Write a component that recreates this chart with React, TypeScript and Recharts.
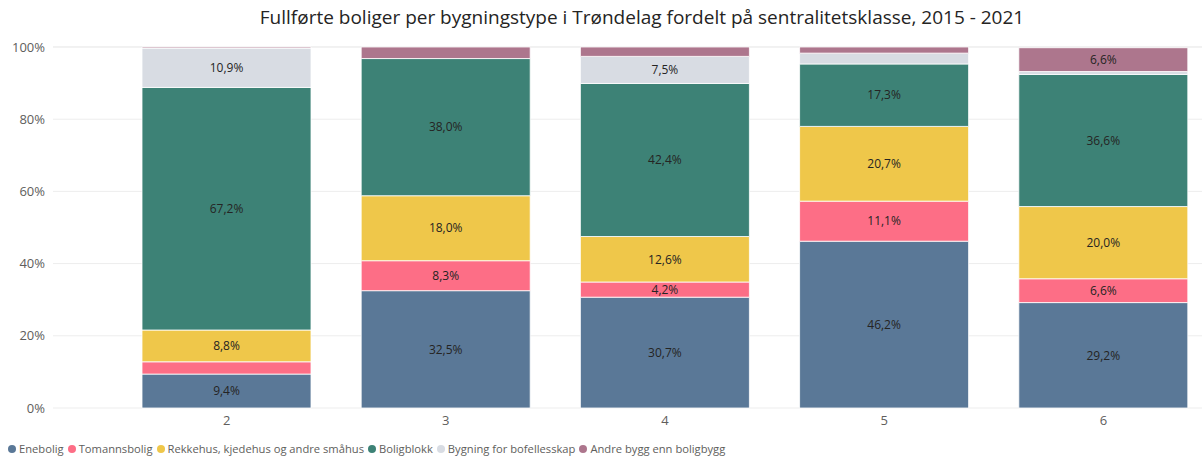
import React from 'react';
import { BarChart, Bar, XAxis, YAxis, CartesianGrid, LabelList } from 'recharts';

const categories = ['2', '3', '4', '5', '6'];
const enebolig = [9.4, 32.5, 30.7, 46.2, 29.2];
const tomannsbolig = [3.4, 8.3, 4.2, 11.1, 6.6];
const rekkehus = [8.8, 18.0, 12.6, 20.7, 20.0];
const boligblokk = [67.2, 38.0, 42.4, 17.3, 36.6];
const bofellesskap = [10.9, 0.0, 7.5, 3.0, 0.8];
const andreBygg = [0.3, 3.2, 2.6, 1.7, 6.6];
const yTicks = [0, 20, 40, 60, 80, 100];

const series = [
  { key: 'enebolig', name: 'Enebolig', color: '#5A7897', values: enebolig },
  { key: 'tomannsbolig', name: 'Tomannsbolig', color: '#FD6E86', values: tomannsbolig },
  { key: 'rekkehus', name: 'Rekkehus, kjedehus og andre småhus', color: '#EFC74A', values: rekkehus },
  { key: 'boligblokk', name: 'Boligblokk', color: '#3D8276', values: boligblokk },
  { key: 'bofellesskap', name: 'Bygning for bofellesskap', color: '#D8DCE3', values: bofellesskap },
  { key: 'andre', name: 'Andre bygg enn boligbygg', color: '#AD768D', values: andreBygg },
];

const data = categories.map((c, i) => {
  const row: Record<string, string | number> = { name: c };
  series.forEach((s) => {
    row[s.key] = s.values[i];
  });
  return row;
});

const font = '"Segoe UI", "Open Sans", sans-serif';

// only label segments big enough to hold text
const fmt = (v: any) => (typeof v === 'number' && v >= 4 ? v.toFixed(1).replace('.', ',') + '%' : '');

const App = () => {
  return (
    <div style={{ position: 'absolute', left: 0, top: 0, width: 1202, height: 459, overflow: 'hidden', background: '#fff', fontFamily: font }}>
      <div style={{ position: 'absolute', top: 4, left: 0, width: 1284, textAlign: 'center', fontSize: 19, color: '#252423' }}>
        Fullførte boliger per bygningstype i Trøndelag fordelt på sentralitetsklasse, 2015 - 2021
      </div>
      <BarChart width={1213} height={459} data={data} margin={{ top: 47, right: 0, bottom: 21, left: 0 }}>
        <CartesianGrid vertical={false} stroke="#EDEDED" />
        <XAxis
          dataKey="name"
          axisLine={false}
          tickLine={false}
          padding={{ left: 64, right: 0 }}
          height={30}
          tick={{ fill: '#605E5C', fontSize: 13, fontFamily: font }}
        />
        <YAxis
          width={53}
          domain={[0, 100]}
          ticks={yTicks}
          axisLine={false}
          tickLine={false}
          tickFormatter={(v) => `${v}%`}
          tick={{ fill: '#605E5C', fontSize: 13, fontFamily: font }}
        />
        {series.map((s) => (
          <Bar key={s.key} dataKey={s.key} name={s.name} stackId="a" fill={s.color} stroke="#ffffff" strokeWidth={0.8} barSize={169} isAnimationActive={false}>
            <LabelList dataKey={s.key} position="center" formatter={fmt} fill="#252423" fontSize={12} fontFamily={font} />
          </Bar>
        ))}
      </BarChart>
      <div style={{ position: 'absolute', left: 8, top: 441, display: 'flex', fontSize: 11.2, color: '#605E5C', whiteSpace: 'nowrap' }}>
        {series.map((s) => (
          <div key={s.key} style={{ display: 'flex', alignItems: 'center', marginRight: 4 }}>
            <span style={{ width: 8, height: 8, borderRadius: 4, background: s.color, marginRight: 3, display: 'inline-block' }} />
            {s.name}
          </div>
        ))}
      </div>
    </div>
  );
};

export default App;
